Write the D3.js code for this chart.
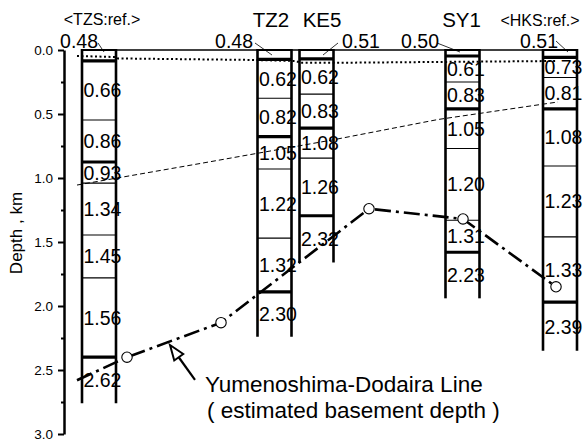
<!DOCTYPE html>
<html>
<head>
<meta charset="utf-8">
<script src="https://cdn.jsdelivr.net/npm/d3@7"></script>
<style>
  body { margin: 0; background: #fff; }
  svg { display: block; font-family: "Liberation Sans", Arial, sans-serif; }
</style>
</head>
<body>
<div id="chart"></div>
<script>
// wells along the profile (distance in arbitrary profile units)
const wellTitles = ["<TZS:ref.>", "TZ2", "KE5", "SY1", "<HKS:ref.>"];
const wellDist = [35, 210.5, 252.5, 398.5, 496];
const wellBottom = [2.76, 2.24, 1.66, 1.94, 2.35];

// layer tops (km), P-wave velocities (km/s) and major boundary flags
const tzsTop = [0, 0.085, 0.547, 0.875, 1.04, 1.445, 1.78, 2.40];
const tzsVel = [0.48, 0.66, 0.86, 0.93, 1.34, 1.45, 1.56, 2.62];
const tzsMajor = [0, 1, 0, 1, 0, 0, 0, 1];

const tz2Top = [0, 0.073, 0.377, 0.677, 0.93, 1.47, 1.89];
const tz2Vel = [0.48, 0.62, 0.82, 1.05, 1.22, 1.32, 2.30];
const tz2Major = [0, 1, 0, 1, 0, 0, 1];

const ke5Top = [0, 0.07, 0.345, 0.61, 0.845, 1.295];
const ke5Vel = [0.51, 0.62, 0.83, 1.08, 1.26, 2.32];
const ke5Major = [0, 1, 0, 1, 0, 1];

const sy1Top = [0, 0.047, 0.25, 0.46, 0.77, 1.33, 1.58];
const sy1Vel = [0.50, 0.61, 0.83, 1.05, 1.20, 1.31, 2.23];
const sy1Major = [0, 1, 0, 1, 0, 0, 1];

const hksTop = [0, 0.057, 0.215, 0.46, 0.906, 1.46, 1.97];
const hksVel = [0.51, 0.73, 0.81, 1.08, 1.23, 1.33, 2.39];
const hksMajor = [0, 1, 0, 1, 0, 0, 1];

// interpreted horizons: [distance, depth]
const shallowHorizon = [[13, 0.047], [52, 0.055], [54, 0.066], [191, 0.078], [232, 0.086],
  [236, 0.1], [270, 0.1], [381, 0.093], [492, 0.086]];
const middleHorizon = [[13, 1.055], [136, 0.887], [271, 0.699], [374, 0.543], [494, 0.406]];
const basementLine = [[13, 2.58], [63, 2.40], [157, 2.13], [305, 1.24], [399, 1.32], [492, 1.85]];
const basementPicks = basementLine.slice(1);

const depthTicks = [0, 0.5, 1, 1.5, 2, 2.5, 3];
const depthMinorTicks = [0.25, 0.75, 1.25, 1.75, 2.25, 2.75];

const annotationLines = ["Yumenoshima-Dodaira Line", "( estimated basement depth )"];

const layerSets = [
  [tzsTop, tzsVel, tzsMajor],
  [tz2Top, tz2Vel, tz2Major],
  [ke5Top, ke5Vel, ke5Major],
  [sy1Top, sy1Vel, sy1Major],
  [hksTop, hksVel, hksMajor],
];

// layout (pixel offsets relative to column centre)
const titleLayout = [
  { dx: 3, y: 25, size: 16 },
  { dx: -3.5, y: 27, size: 20.5 },
  { dx: 5.5, y: 27, size: 20.5 },
  { dx: -1, y: 27, size: 20.5 },
  { dx: -20, y: 26, size: 16 },
];
const topLabelLayout = [
  { anchor: "end", tx: -1, l: [-1, -7, 5, 2] },
  { anchor: "end", tx: -21.5, l: [-19.5, -7, -2.5, 5] },
  { anchor: "start", tx: 25.5, l: [21.5, -7, 6.5, 5] },
  { anchor: "end", tx: -23.5, l: [-25.5, -7, -2.5, 2] },
  { anchor: "end", tx: -2, l: [-4, -9, 8, 2] },
];

const width = 588, height = 441;
const colW = 34;
const velFont = "'Liberation Sans Narrow', 'Liberation Sans', Arial, sans-serif";

const svg = d3.select("#chart").append("svg")
  .attr("width", width)
  .attr("height", height);

const x = d3.scaleLinear().domain([0, 520]).range([64, 584]);
const y = d3.scaleLinear().domain([0, 3]).range([50, 434]);

const wells = wellTitles.map((t, i) => {
  const [tops, vels, major] = layerSets[i];
  return {
    title: t,
    cx: x(wellDist[i]),
    bottom: wellBottom[i],
    layers: tops.map((d, j) => ({
      top: d,
      base: j < tops.length - 1 ? tops[j + 1] : wellBottom[i],
      vel: vels[j],
      major: major[j] === 1,
    })),
  };
});

// depth axis
const axisG = svg.append("g").attr("transform", `translate(${x(0)},0)`);
axisG.call(d3.axisLeft(y).tickValues(depthTicks).tickFormat(d3.format(".1f"))
  .tickSizeInner(6).tickSizeOuter(0).tickPadding(5));
axisG.select(".domain").attr("stroke-width", 2.5);
axisG.selectAll(".tick line").attr("stroke-width", 2);
axisG.selectAll(".tick text")
  .style("font-size", "13.5px")
  .style("font-family", "'Liberation Sans', Arial, sans-serif")
  .attr("fill", "#000");

const minorG = svg.append("g").attr("transform", `translate(${x(0)},0)`);
minorG.call(d3.axisLeft(y).tickValues(depthMinorTicks).tickFormat("").tickSizeInner(3).tickSizeOuter(0));
minorG.select(".domain").remove();
minorG.selectAll(".tick line").attr("stroke-width", 2);

svg.append("text")
  .attr("transform", `translate(22,${y(1.43)}) rotate(-90)`)
  .attr("text-anchor", "middle")
  .style("font-size", "17px")
  .text("Depth , km");

// ground surface
svg.append("line")
  .attr("x1", wells[0].cx - colW / 2)
  .attr("x2", wells[4].cx + colW / 2 + 1)
  .attr("y1", y(0)).attr("y2", y(0))
  .attr("stroke", "#000").attr("stroke-width", 1.3);

// well columns
const wellG = svg.selectAll(".well")
  .data(wells)
  .join("g")
  .attr("class", "well");

wellG.each(function (w, i) {
  const g = d3.select(this);
  const x0 = w.cx - colW / 2, x1 = w.cx + colW / 2;

  g.selectAll(".bound")
    .data(w.layers.slice(1))
    .join("line")
    .attr("class", "bound")
    .attr("x1", x0).attr("x2", x1)
    .attr("y1", (d) => y(d.top)).attr("y2", (d) => y(d.top))
    .attr("stroke", "#000")
    .attr("stroke-width", (d) => (d.major ? 3.2 : 1.1));

  g.append("line")
    .attr("x1", x0).attr("x2", x1)
    .attr("y1", y(0)).attr("y2", y(0))
    .attr("stroke", "#000").attr("stroke-width", 2);

  g.selectAll(".wall")
    .data([x0, x1])
    .join("line")
    .attr("class", "wall")
    .attr("x1", (d) => d).attr("x2", (d) => d)
    .attr("y1", y(0) - 1).attr("y2", y(w.bottom))
    .attr("stroke", "#000").attr("stroke-width", 2.6);

  g.selectAll(".vel")
    .data(w.layers.slice(1))
    .join("text")
    .attr("class", "vel")
    .attr("x", x0 + 1.5)
    .attr("y", (d) => (y(d.top) + y(d.base)) / 2)
    .attr("dy", "0.36em")
    .style("font-family", velFont)
    .style("font-size", "19.5px")
    .text((d) => d.vel.toFixed(2));

  const tl = topLabelLayout[i];
  g.append("text")
    .attr("x", w.cx + tl.tx)
    .attr("y", y(0) - 2)
    .attr("text-anchor", tl.anchor)
    .style("font-family", velFont)
    .style("font-size", "19.5px")
    .text(w.layers[0].vel.toFixed(2));
  g.append("line")
    .attr("x1", w.cx + tl.l[0]).attr("y1", y(0) + tl.l[1])
    .attr("x2", w.cx + tl.l[2]).attr("y2", y(0) + tl.l[3])
    .attr("stroke", "#000").attr("stroke-width", 0.8);

  const tt = titleLayout[i];
  g.append("text")
    .attr("x", w.cx + tt.dx)
    .attr("y", tt.y)
    .attr("text-anchor", "middle")
    .style("font-size", tt.size + "px")
    .text(w.title);
});

// horizons
const line = d3.line().x((d) => x(d[0])).y((d) => y(d[1]));

svg.append("path")
  .attr("d", line(shallowHorizon))
  .attr("fill", "none").attr("stroke", "#000")
  .attr("stroke-width", 2).attr("stroke-dasharray", "2,2.5");

svg.append("path")
  .attr("d", line(middleHorizon))
  .attr("fill", "none").attr("stroke", "#000")
  .attr("stroke-width", 1).attr("stroke-dasharray", "5,3");

svg.append("path")
  .attr("d", line(basementLine))
  .attr("fill", "none").attr("stroke", "#000")
  .attr("stroke-width", 2.6).attr("stroke-dasharray", "16,5,3,5");

svg.selectAll(".pick")
  .data(basementPicks)
  .join("circle")
  .attr("class", "pick")
  .attr("cx", (d) => x(d[0]))
  .attr("cy", (d) => y(d[1]))
  .attr("r", 5.2)
  .attr("fill", "#fff").attr("stroke", "#000").attr("stroke-width", 1.1);

// annotation arrow
const tail = [x(131), y(2.578)], tip = [x(106), y(2.305)];
const ang = Math.atan2(tip[1] - tail[1], tip[0] - tail[0]);
const headLen = 15, headW = 5.5;
const bx = tip[0] - headLen * Math.cos(ang), by = tip[1] - headLen * Math.sin(ang);
svg.append("line")
  .attr("x1", tail[0]).attr("y1", tail[1])
  .attr("x2", bx).attr("y2", by)
  .attr("stroke", "#000").attr("stroke-width", 2.2);
svg.append("path")
  .attr("d", `M${tip[0]},${tip[1]}L${bx + headW * Math.sin(ang)},${by - headW * Math.cos(ang)}L${bx - headW * Math.sin(ang)},${by + headW * Math.cos(ang)}Z`)
  .attr("fill", "#fff").attr("stroke", "#000").attr("stroke-width", 2);

svg.selectAll(".note")
  .data(annotationLines)
  .join("text")
  .attr("class", "note")
  .attr("x", (d, i) => x(141 + i * 2))
  .attr("y", (d, i) => y(2.672 + i * 0.203))
  .style("font-size", "22.5px")
  .text((d) => d);
</script>
</body>
</html>
